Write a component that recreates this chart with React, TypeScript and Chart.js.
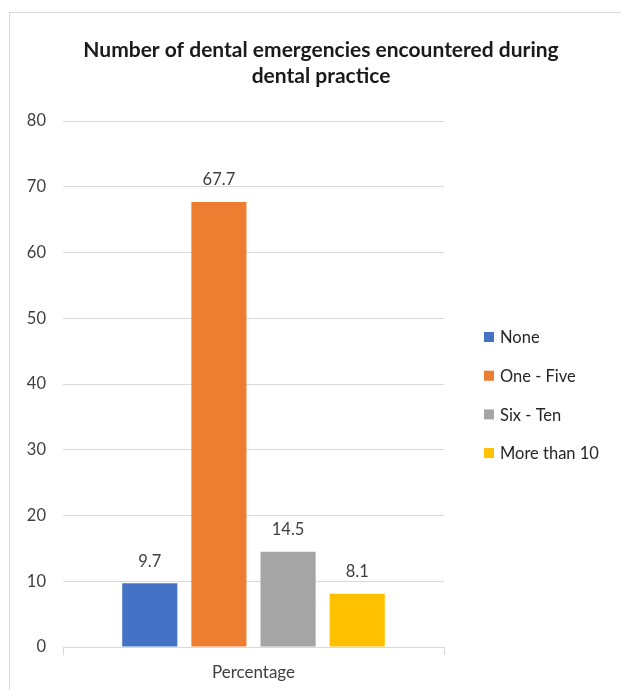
import { useEffect, useRef } from "react";
import { Chart, registerables } from "chart.js";

Chart.register(...registerables);

const categories = ["Percentage"];
const seriesNames = ["None", "One - Five", "Six - Ten", "More than 10"];
const noneValues = [9.7];
const oneToFiveValues = [67.7];
const sixToTenValues = [14.5];
const moreThanTenValues = [8.1];
const seriesColors = ["#4472C4", "#ED7D31", "#A5A5A5", "#FFC000"];
const yMin = 0;
const yMax = 80;
const yStep = 10;
const titleLines = ["Number of dental emergencies encountered during", "dental practice"];

const FONT = "Lato, 'Open Sans', sans-serif";

const dataLabelsPlugin = {
  id: "dataLabelsInline",
  afterDatasetsDraw(chart: any) {
    const ctx = chart.ctx;
    ctx.save();
    ctx.font = `16.5px ${FONT}`;
    ctx.fillStyle = "#404040";
    ctx.textAlign = "center";
    ctx.textBaseline = "middle";
    chart.data.datasets.forEach((ds: any, i: number) => {
      const meta = chart.getDatasetMeta(i);
      meta.data.forEach((el: any, j: number) => {
        const v = ds.data[j];
        ctx.fillText(Number(v).toFixed(1), el.x, el.y - 22);
      });
    });
    ctx.restore();
  },
};

const sideLegendPlugin = {
  id: "sideLegendInline",
  afterDraw(chart: any) {
    const ctx = chart.ctx;
    const area = chart.chartArea;
    const n = chart.data.datasets.length;
    const spacing = 38.7;
    const cy = (area.top + area.bottom) / 2 + 11;
    const x = area.right + 40;
    ctx.save();
    ctx.font = `16.5px ${FONT}`;
    ctx.textAlign = "left";
    ctx.textBaseline = "middle";
    chart.data.datasets.forEach((ds: any, i: number) => {
      const y = cy + (i - (n - 1) / 2) * spacing;
      ctx.fillStyle = ds.backgroundColor;
      ctx.fillRect(x, y - 5, 10, 10);
      ctx.fillStyle = "#262626";
      ctx.fillText(ds.label, x + 16, y + 1);
    });
    ctx.restore();
  },
};

export default function App() {
  const ref = useRef<HTMLCanvasElement | null>(null);

  useEffect(() => {
    if (!ref.current) return;
    const seriesValues = [noneValues, oneToFiveValues, sixToTenValues, moreThanTenValues];
    const chart = new Chart(ref.current, {
      type: "bar",
      data: {
        labels: categories,
        datasets: seriesNames.map((name, i) => ({
          label: name,
          data: seriesValues[i],
          backgroundColor: seriesColors[i],
          borderWidth: 0,
          categoryPercentage: 0.726,
          barPercentage: 0.797,
        })),
      },
      options: {
        animation: false,
        responsive: false,
        maintainAspectRatio: false,
        devicePixelRatio: 1,
        layout: { padding: { top: 14, left: 11, right: 9, bottom: 3 } },
        plugins: {
          legend: { display: false },
          tooltip: { enabled: false },
          title: {
            display: true,
            text: titleLines,
            color: "#1a1a1a",
            font: { family: FONT, size: 21, weight: "bold", lineHeight: 1.24 },
            padding: { top: 23, bottom: 32 },
          },
        },
        scales: {
          x: {
            offset: true,
            grid: {
              display: true,
              drawOnChartArea: false,
              drawTicks: true,
              tickLength: 8,
              color: "#d9d9d9",
              offset: true,
            },
            border: { display: true, color: "#d9d9d9", width: 1 },
            ticks: { color: "#404040", font: { family: FONT, size: 17 }, padding: 7 },
            afterFit: (s: any) => {
              s.height = 40;
            },
          },
          y: {
            min: yMin,
            max: yMax,
            ticks: {
              stepSize: yStep,
              color: "#404040",
              font: { family: FONT, size: 16.5 },
              padding: 17,
            },
            grid: { color: "#d9d9d9", drawTicks: false, lineWidth: 1 },
            border: { display: false },
            afterFit: (s: any) => {
              s.width = 52;
            },
          },
          gap: {
            type: "linear",
            position: "right",
            display: true,
            grid: { display: false, drawTicks: false },
            border: { display: false },
            ticks: { display: false },
            afterFit: (s: any) => {
              s.width = 187;
            },
          },
        },
      },
      plugins: [dataLabelsPlugin, sideLegendPlugin],
    });
    return () => chart.destroy();
  }, []);

  return (
    <div
      style={{
        position: "fixed",
        left: 0,
        top: 0,
        width: 621,
        height: 690,
        overflow: "hidden",
        background: "#fff",
      }}
    >
      <div
        style={{
          position: "absolute",
          left: 9,
          top: 12,
          width: 640,
          height: 700,
          border: "1.5px solid #d9d9d9",
          boxSizing: "border-box",
        }}
      />
      <canvas
        ref={ref}
        width={640}
        height={690}
        style={{ position: "absolute", left: 0, top: 0, width: 640, height: 690 }}
      />
    </div>
  );
}
